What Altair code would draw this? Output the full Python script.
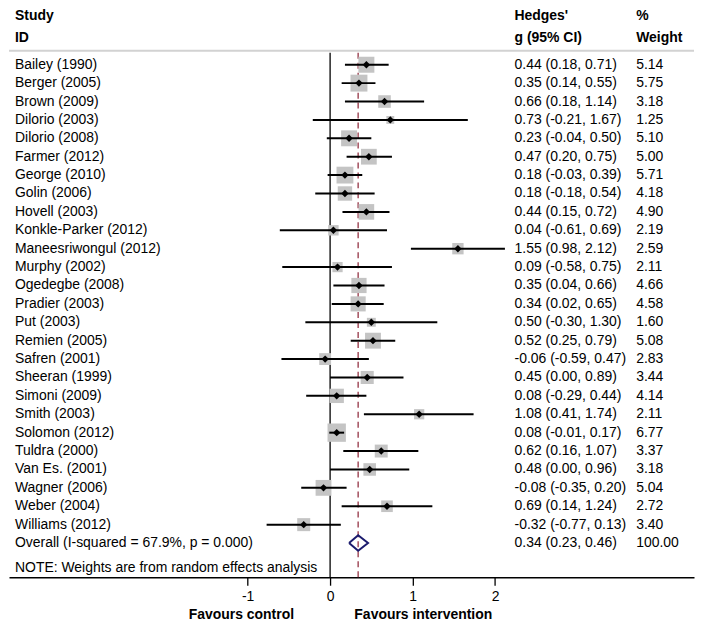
import altair as alt
import pandas as pd

# ---------------- data ----------------
studies = ["Bailey (1990)", "Berger (2005)", "Brown (2009)", "Dilorio (2003)", "Dilorio (2008)",
           "Farmer (2012)", "George (2010)", "Golin (2006)", "Hovell (2003)", "Konkle-Parker (2012)",
           "Maneesriwongul (2012)", "Murphy (2002)", "Ogedegbe (2008)", "Pradier (2003)", "Put (2003)",
           "Remien (2005)", "Safren  (2001)", "Sheeran (1999)", "Simoni (2009)", "Smith (2003)",
           "Solomon  (2012)", "Tuldra (2000)", "Van Es. (2001)", "Wagner (2006)", "Weber (2004)",
           "Williams (2012)"]
g_vals = [0.44, 0.35, 0.66, 0.73, 0.23, 0.47, 0.18, 0.18, 0.44, 0.04, 1.55, 0.09, 0.35, 0.34, 0.50,
          0.52, -0.06, 0.45, 0.08, 1.08, 0.08, 0.62, 0.48, -0.08, 0.69, -0.32]
ci_low = [0.18, 0.14, 0.18, -0.21, -0.04, 0.20, -0.03, -0.18, 0.15, -0.61, 0.98, -0.58, 0.04, 0.02,
          -0.30, 0.25, -0.59, 0.00, -0.29, 0.41, -0.01, 0.16, 0.00, -0.35, 0.14, -0.77]
ci_high = [0.71, 0.55, 1.14, 1.67, 0.50, 0.75, 0.39, 0.54, 0.72, 0.69, 2.12, 0.75, 0.66, 0.65, 1.30,
           0.79, 0.47, 0.89, 0.44, 1.74, 0.17, 1.07, 0.96, 0.20, 1.24, 0.13]
weights = [5.14, 5.75, 3.18, 1.25, 5.10, 5.00, 5.71, 4.18, 4.90, 2.19, 2.59, 2.11, 4.66, 4.58, 1.60,
           5.08, 2.83, 3.44, 4.14, 2.11, 6.77, 3.37, 3.18, 5.04, 2.72, 3.40]

overall_label = "Overall  (I-squared = 67.9%, p = 0.000)"
overall_g, overall_low, overall_high, overall_w = 0.34, 0.23, 0.46, 100.00
note_text = "NOTE: Weights are from random effects analysis"
x_ticks = [-1, 0, 1, 2]
favours = ["Favours control", "Favours intervention"]
favours_at = [-1.076, 1.13]

# ---------------- tables ----------------
n = len(studies)
df = pd.DataFrame({
    "row": list(range(n)),
    "study": studies,
    "g": g_vals,
    "lo": ci_low,
    "hi": ci_high,
    "w": weights,
})
df["ci_txt"] = [f"{a:.2f} ({b:.2f}, {c:.2f})" for a, b, c in zip(g_vals, ci_low, ci_high)]
df["w_txt"] = [f"{v:.2f}" for v in weights]

ov_row = n
ov_df = pd.DataFrame({"row": [ov_row], "study": [overall_label],
                      "ci_txt": [f"{overall_g:.2f} ({overall_low:.2f}, {overall_high:.2f})"],
                      "w_txt": [f"{overall_w:.2f}"]})
half = 0.42
dia_df = pd.DataFrame({
    "x": [overall_low, overall_g, overall_high, overall_g, overall_low],
    "row": [ov_row, ov_row - half, ov_row, ov_row + half, ov_row],
    "o": [0, 1, 2, 3, 4],
})
text_rows = pd.concat([df[["row", "study", "ci_txt", "w_txt"]], ov_df], ignore_index=True)
note_df = pd.DataFrame({"row": [27.37], "t": [note_text]})
fav_df = pd.DataFrame({"x": favours_at, "t": favours})
ref_df = pd.DataFrame({"x": [0.0]})
ovl_df = pd.DataFrame({"x": [overall_g]})
one = pd.DataFrame({"a": [0]})

# ---------------- layout ----------------
W, H = 687, 570
FONT = "Liberation Sans"
FS = 14

xs = alt.Scale(domain=[-3.894, 4.413], nice=False, zero=False)
ys = alt.Scale(domain=[-3.035, 27.859], nice=False, zero=False, reverse=True)
xaxis = alt.Axis(values=x_ticks, title=None, grid=False, domainColor="black", domainWidth=1.3,
                 tickColor="black", tickWidth=1.3, tickSize=8, labelFontSize=FS, labelFont=FONT,
                 labelColor="black", labelPadding=4, labelExpr="'' + datum.value")


def X(f):
    return alt.X(f, type="quantitative", scale=xs, axis=xaxis)


def Y(f):
    return alt.Y(f, type="quantitative", scale=ys, axis=None)


top_line = alt.Chart(one).mark_rule(color="#d2d2d2", strokeWidth=2).encode(
    x=alt.value(0), x2=alt.value(W), y=alt.value(42))

zero_line = alt.Chart(ref_df).mark_rule(color="black", strokeWidth=1.3).encode(
    x=X("x"), y=alt.value(44), y2=alt.value(H))

ov_line = alt.Chart(ovl_df).mark_rule(color="#953445", strokeWidth=1.3, strokeDash=[6, 4]).encode(
    x=X("x"), y=alt.value(44), y2=alt.value(H))

boxes = alt.Chart(df).mark_square(color="#c4c4c4", opacity=1).encode(
    x=X("g"), y=Y("row"),
    size=alt.Size("w:Q", scale=alt.Scale(domain=[0, 10], range=[0, 500]), legend=None))

ci = alt.Chart(df).mark_rule(color="black", strokeWidth=2).encode(
    x=X("lo"), x2="hi", y=Y("row"))

pts = alt.Chart(df).mark_point(shape="diamond", filled=True, color="black", size=55, opacity=1).encode(
    x=X("g"), y=Y("row"))

diamond = alt.Chart(dia_df).mark_line(color="#1b1b6e", strokeWidth=2).encode(
    x=X("x"), y=Y("row"), order="o:Q")

txt_kw = dict(baseline="middle", fontSize=FS, font=FONT, color="black")
names = alt.Chart(text_rows).mark_text(align="left", **txt_kw).encode(
    x=alt.value(6), y=Y("row"), text="study:N")
cis = alt.Chart(text_rows).mark_text(align="left", **txt_kw).encode(
    x=alt.value(507), y=Y("row"), text="ci_txt:N")
wts = alt.Chart(text_rows).mark_text(align="left", **txt_kw).encode(
    x=alt.value(629), y=Y("row"), text="w_txt:N")

note = alt.Chart(note_df).mark_text(align="left", **txt_kw).encode(
    x=alt.value(6), y=Y("row"), text="t:N")

hdr_kw = dict(align="left", baseline="top", fontSize=FS, font=FONT, fontWeight="bold", color="black")
hdr = alt.layer(
    alt.Chart(one).mark_text(text="Study", **hdr_kw).encode(x=alt.value(6), y=alt.value(0)),
    alt.Chart(one).mark_text(text="ID", **hdr_kw).encode(x=alt.value(6), y=alt.value(22)),
    alt.Chart(one).mark_text(text="Hedges'", **hdr_kw).encode(x=alt.value(507), y=alt.value(0)),
    alt.Chart(one).mark_text(text="g (95% CI)", **hdr_kw).encode(x=alt.value(507), y=alt.value(22)),
    alt.Chart(one).mark_text(text="%", **hdr_kw).encode(x=alt.value(629), y=alt.value(0)),
    alt.Chart(one).mark_text(text="Weight", **hdr_kw).encode(x=alt.value(629), y=alt.value(22)),
)

fav = alt.Chart(fav_df).mark_text(align="center", baseline="middle", fontSize=FS, font=FONT,
                                  fontWeight="bold", color="black").encode(
    x=X("x"), y=alt.value(608), text="t:N")

chart = alt.layer(top_line, zero_line, ov_line, boxes, ci, pts, diamond, names, cis, wts, note, hdr, fav).properties(
    width=W, height=H, padding=0, background="white"
).configure_view(stroke=None)

chart.save("out.html", embed_options={"renderer": "svg", "actions": False})
